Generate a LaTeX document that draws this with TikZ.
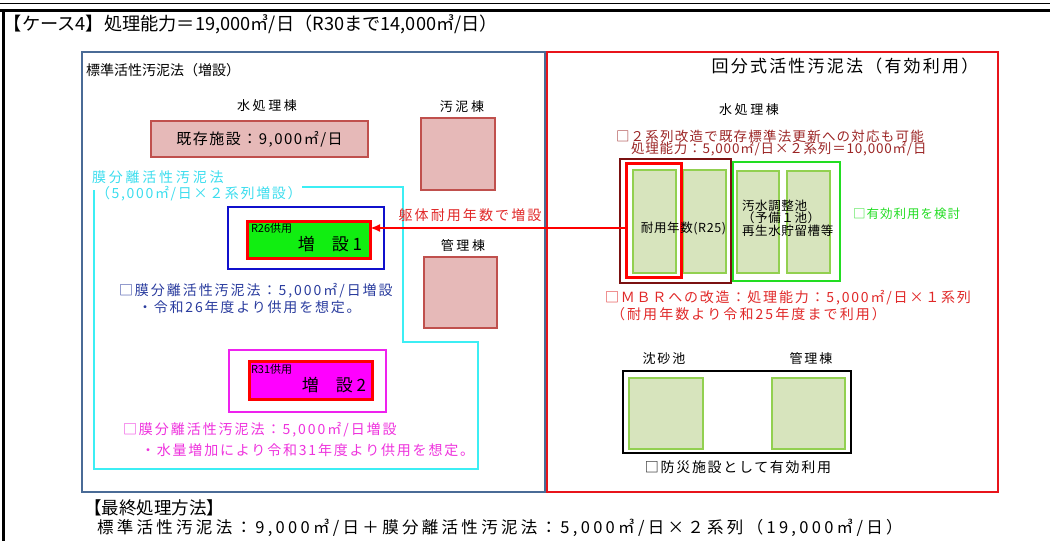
\documentclass[tikz,border=0pt]{standalone}
\usepackage{fontspec}
\setmainfont{Noto Sans CJK JP}
\usetikzlibrary{arrows.meta}
\newcommand{\jfs}[2]{\fontsize{#1}{#1}\selectfont\addfontfeature{LetterSpace=#2}}
\definecolor{frameblue}{HTML}{4A6B96}
\definecolor{bigred}{HTML}{E8141B}
\definecolor{pinkfill}{HTML}{E6B9B8}
\definecolor{pinkdraw}{HTML}{C0504D}
\definecolor{cyanc}{HTML}{3CEEF4}
\definecolor{bluec}{HTML}{1010CC}
\definecolor{limefill}{HTML}{11EE11}
\definecolor{magc}{HTML}{EE22EE}
\definecolor{magfill}{HTML}{FF00FF}
\definecolor{tankfill}{HTML}{D7E4BD}
\definecolor{tankdraw}{HTML}{92D050}
\definecolor{maroonc}{HTML}{7B1111}
\definecolor{darkredtext}{HTML}{9B2525}
\definecolor{redtext}{HTML}{E02828}
\definecolor{greentext}{HTML}{22DD22}
\definecolor{bluetext}{HTML}{2A3C9E}
\definecolor{magtext}{HTML}{EE33DD}
\definecolor{cyantext}{HTML}{3CDDEE}
\begin{document}
\begin{tikzpicture}[x=1pt,y=-1pt,
  txt/.style={inner sep=0pt, outer sep=0pt},
  rbox/.style={draw, inner sep=0pt, outer sep=0pt},
  pinkbox/.style={rbox, fill=pinkfill, draw=pinkdraw, line width=2.5pt},
  tank/.style={rbox, fill=tankfill, draw=tankdraw, line width=2.5pt},
]
\useasboundingbox (0,0) rectangle (1050,541);
% page frame
\draw[line width=1.2pt] (0,3.5) -- (1050,3.5);
\draw[line width=3pt] (0,10) -- (1050,10);
\draw[line width=3pt] (3,10) -- (3,541);

% title
\node[txt, anchor=west, font=\jfs{18.2}{0}] (title) at (4,24) {【ケース4】処理能力＝19,000㎥/日（R30まで14,000㎥/日）};

% outer boxes
\node[rbox, draw=frameblue, line width=2pt, minimum width=463pt, minimum height=440pt] (outerL) at (313.5,272) {};
\node[rbox, draw=bigred, line width=2.5pt, minimum width=451pt, minimum height=440pt] (outerR) at (772.5,272) {};

% ---------------- left part
\node[txt, anchor=west, font=\jfs{14}{0}] (ltitle) at (86,70) {標準活性汚泥法（増設）};
\node[txt, font=\jfs{13}{20}] (lwater) at (267,106) {水処理棟};
\node[pinkbox, minimum width=217pt, minimum height=36pt, font=\jfs{15}{10}] (exist) at (259.5,139) {既存施設：9,000㎡/日};
\node[txt, font=\jfs{13}{20}] (lsludgelbl) at (462,107) {汚泥棟};
\node[pinkbox, minimum width=74pt, minimum height=72pt] (sludge) at (458,154) {};
\node[txt, font=\jfs{13}{20}] (ladminlbl) at (463,246) {管理棟};
\node[pinkbox, minimum width=73pt, minimum height=71pt] (adminL) at (460.5,292.5) {};

% membrane area
\node[txt, anchor=west, text=cyantext, font=\jfs{14}{20}] (mbrlbl1) at (92,177) {膜分離活性汚泥法};
\node[txt, anchor=west, text=cyantext, font=\jfs{14}{12}] (mbrlbl2) at (96,194) {（5,000㎡/日×２系列増設）};
\draw[cyanc, line width=2.5pt] (302,187) -- (403,187) -- (403,342) -- (478,342) -- (478,469) -- (94,469) -- (94,190);

\node[rbox, draw=bluec, line width=2.5pt, minimum width=156pt, minimum height=62pt] (bframe) at (306,238) {};
\node[rbox, fill=limefill, draw=red, line width=3pt, minimum width=123pt, minimum height=37pt] (add1) at (308.5,239.5) {};
\node[txt, anchor=west, font=\jfs{11}{0}] (add1a) at (251,228) {R26供用};
\node[txt, anchor=east, font=\jfs{17}{0}] (add1b) at (362,244) {増　設 1};

\node[txt, anchor=west, text=bluetext, font=\jfs{14}{14}] (btxt1) at (119,291) {□膜分離活性汚泥法：5,000㎡/日増設};
\node[txt, anchor=west, text=bluetext, font=\jfs{14}{13}] (btxt2) at (138,307) {・令和26年度より供用を想定。};

\node[rbox, draw=magc, line width=2.5pt, minimum width=157pt, minimum height=62pt] (mframe) at (307.5,381) {};
\node[rbox, fill=magfill, draw=red, line width=3pt, minimum width=123pt, minimum height=38pt] (add2) at (310.5,380) {};
\node[txt, anchor=west, font=\jfs{11}{0}] (add2a) at (251,369) {R31供用};
\node[txt, anchor=east, font=\jfs{17}{0}] (add2b) at (366,385) {増　設 2};

\node[txt, anchor=west, text=magtext, font=\jfs{14}{14}] (mtxt1) at (123,430) {□膜分離活性汚泥法：5,000㎡/日増設};
\node[txt, anchor=west, text=magtext, font=\jfs{14}{13}] (mtxt2) at (141,450) {・水量増加により令和31年度より供用を想定。};

% ---------------- right part
\node[txt, font=\jfs{17}{13}] (rtitle) at (845,66) {回分式活性汚泥法（有効利用）};
\node[txt, font=\jfs{13}{20}] (rwater) at (749,110) {水処理棟};
\node[txt, anchor=west, text=darkredtext, font=\jfs{13.5}{9}] (drtxt1) at (616,136) {□２系列改造で既存標準法更新への対応も可能};
\node[txt, anchor=west, text=darkredtext, font=\jfs{13.5}{6}] (drtxt2) at (631,149) {処理能力：5,000㎡/日×２系列＝10,000㎡/日};

\node[rbox, draw=maroonc, line width=2.5pt, minimum width=111pt, minimum height=124pt] (maroonbox) at (675.5,221) {};
\node[rbox, draw=greentext, line width=2.5pt, minimum width=107pt, minimum height=119pt] (greenframe) at (786.5,221.5) {};
\node[tank, minimum width=43pt, minimum height=103pt] (t1) at (654.5,221.5) {};
\node[tank, minimum width=43pt, minimum height=103pt] (t2) at (704.5,221.5) {};
\node[tank, minimum width=42pt, minimum height=102pt] (t3) at (758,222) {};
\node[tank, minimum width=43pt, minimum height=102pt] (t4) at (808.5,222) {};
\node[rbox, draw=red, line width=3pt, minimum width=55pt, minimum height=114pt] (redin) at (653.5,220) {};
\node[txt, font=\jfs{12.5}{5}] (r25) at (683.5,228) {耐用年数(R25)};
\node[txt, anchor=west, align=left, font=\jfs{12.5}{5}] (tanktxt) at (742,218) {汚水調整池\\（予備１池）\\再生水貯留槽等};
\node[txt, anchor=west, text=greentext, font=\jfs{12.5}{8}] (effuse) at (853,214) {□有効利用を検討};

\node[txt, anchor=west, text=redtext, font=\jfs{14}{13}] (mbr1) at (605,298) {□ＭＢＲへの改造：処理能力：5,000㎡/日×１系列};
\node[txt, anchor=west, text=redtext, font=\jfs{14}{15}] (mbr2) at (611,314) {（耐用年数より令和25年度まで利用）};

\node[txt, font=\jfs{13}{15}] (sandlbl) at (664,359) {沈砂池};
\node[txt, font=\jfs{13}{15}] (radminlbl) at (811,359) {管理棟};
\node[rbox, line width=2.5pt, minimum width=228pt, minimum height=82pt] (blackbox) at (737,412) {};
\node[tank, minimum width=74pt, minimum height=71pt] (sand) at (666,413.5) {};
\node[tank, minimum width=73pt, minimum height=71pt] (adminR) at (808.5,413.5) {};
\node[txt, font=\jfs{14}{12}] (disaster) at (738,467) {□防災施設として有効利用};

% arrow
\coordinate (ay) at (0,228);
\draw[red, line width=2pt, -{Latex[length=10pt,width=8pt]}] (redin.west |- ay) -- (add1.east |- ay);
\node[txt, text=redtext, font=\jfs{14}{15}] (arrowlbl) at (470,215) {躯体耐用年数で増設};

% bottom
\node[txt, anchor=west, font=\jfs{17.5}{0}] (final1) at (84,508) {【最終処理方法】};
\node[txt, anchor=west, font=\jfs{16.5}{20}] (final2) at (97,528) {標準活性汚泥法：9,000㎥/日＋膜分離活性汚泥法：5,000㎥/日×２系列（19,000㎥/日）};
\end{tikzpicture}
\end{document}
